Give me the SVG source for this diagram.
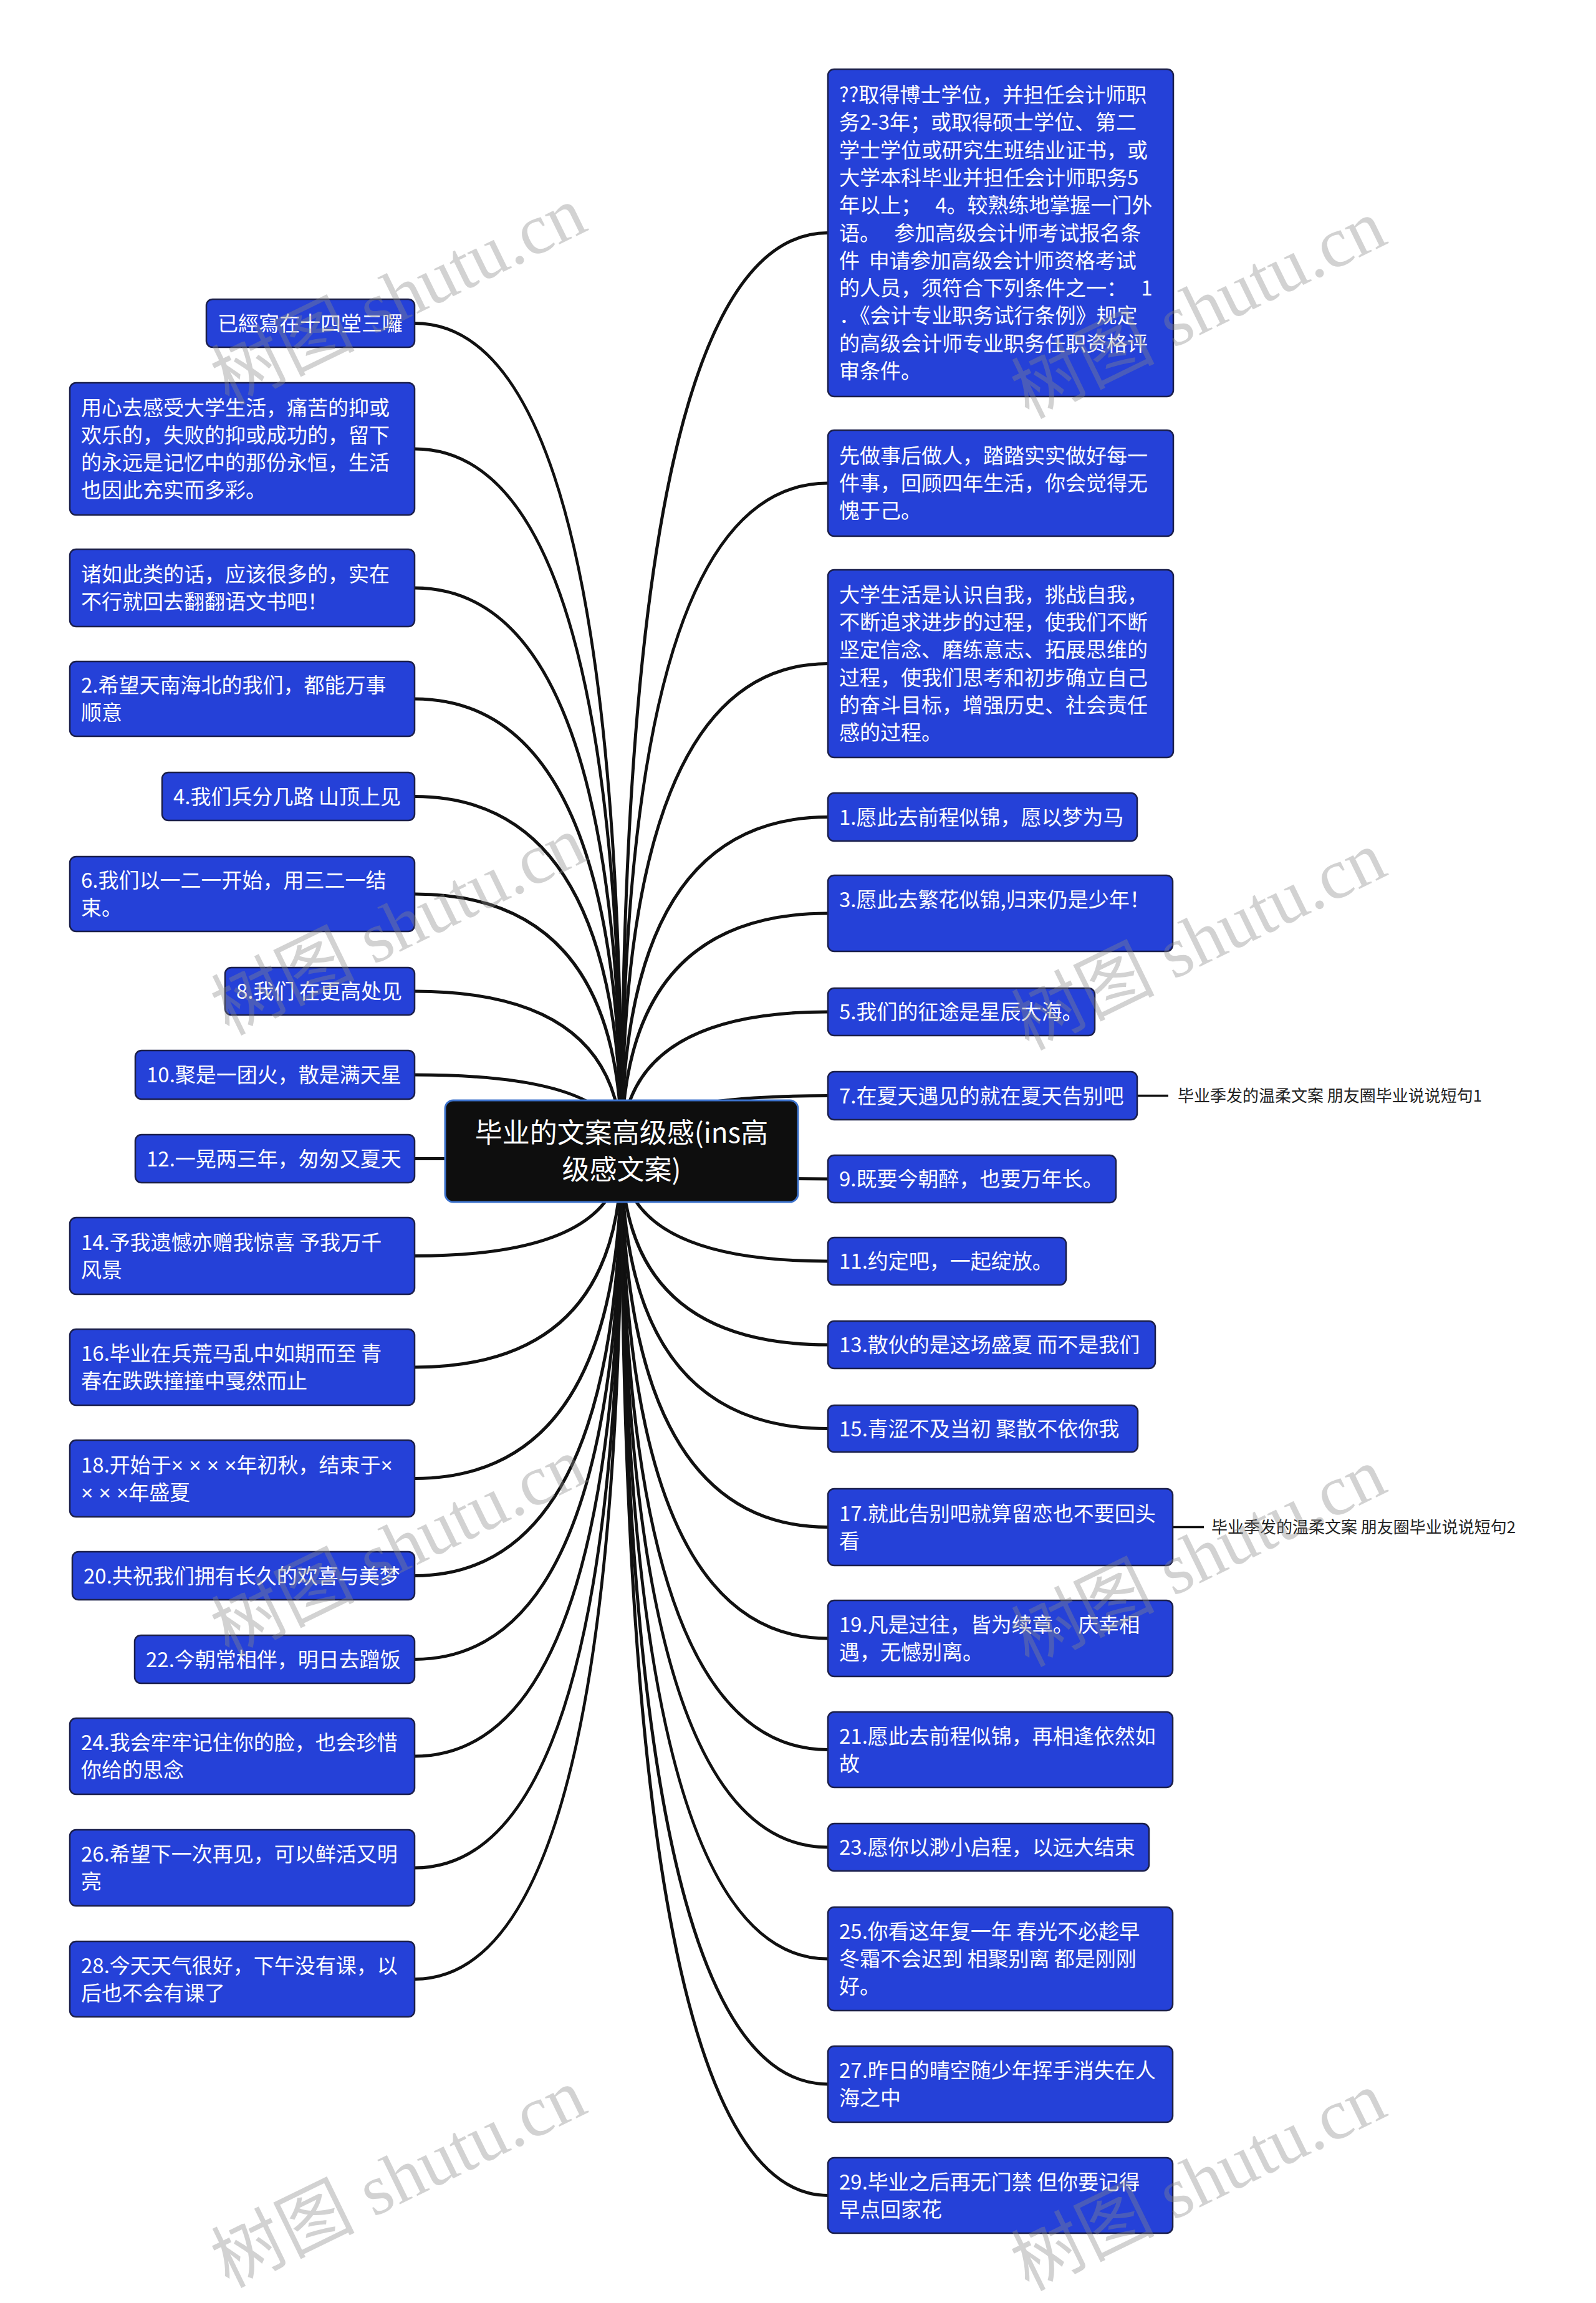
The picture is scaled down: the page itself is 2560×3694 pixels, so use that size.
<svg xmlns="http://www.w3.org/2000/svg" width="2560" height="3694" viewBox="0 0 2560 3694">
<style>
.n{fill:#2541d8;stroke:#1b1f4a;stroke-width:2.5}
.r{fill:#0e0e0e;stroke:#3c72cc;stroke-width:3}
.t{font-family:"Noto Sans CJK SC","Noto Sans",sans-serif;font-size:33px;fill:#ffffff}
.x{font-family:"Liberation Sans","Noto Sans",sans-serif}
.rt{font-family:"Noto Sans CJK SC","Noto Sans",sans-serif;font-size:44px;fill:#ffffff;text-anchor:middle}
.lb{font-family:"Noto Sans CJK SC","Noto Sans",sans-serif;font-size:26px;fill:#222}
.c{fill:none;stroke:#111;stroke-width:5}
.cs{fill:none;stroke:#111;stroke-width:3.5}
.wm{font-family:"Liberation Serif","Noto Sans CJK SC",serif;font-size:115px;fill:#888;fill-opacity:0.38;text-anchor:middle}
</style>
<rect width="2560" height="3694" fill="#ffffff"/>
<g id="connectors">
<path class="c" d="M997,1846 Q997,518.5 665,518.5"/>
<path class="c" d="M997,1846 Q997,720 665,720"/>
<path class="c" d="M997,1846 Q997,943 665,943"/>
<path class="c" d="M997,1846 Q997,1121 665,1121"/>
<path class="c" d="M997,1846 Q997,1277.5 665,1277.5"/>
<path class="c" d="M997,1846 Q997,1434 665,1434"/>
<path class="c" d="M997,1846 Q997,1590 665,1590"/>
<path class="c" d="M997,1846 Q997,1724 665,1724"/>
<path class="c" d="M997,1846 Q997,1858.5 665,1858.5"/>
<path class="c" d="M997,1846 Q997,2014.5 665,2014.5"/>
<path class="c" d="M997,1846 Q997,2193 665,2193"/>
<path class="c" d="M997,1846 Q997,2371.5 665,2371.5"/>
<path class="c" d="M997,1846 Q997,2527.5 665,2527.5"/>
<path class="c" d="M997,1846 Q997,2661.5 665,2661.5"/>
<path class="c" d="M997,1846 Q997,2817 665,2817"/>
<path class="c" d="M997,1846 Q997,2996 665,2996"/>
<path class="c" d="M997,1846 Q997,3174.5 665,3174.5"/>
<path class="c" d="M997,1846 Q997,373.5 1328,373.5"/>
<path class="c" d="M997,1846 Q997,775 1328,775"/>
<path class="c" d="M997,1846 Q997,1064.5 1328,1064.5"/>
<path class="c" d="M997,1846 Q997,1310.5 1328,1310.5"/>
<path class="c" d="M997,1846 Q997,1465 1328,1465"/>
<path class="c" d="M997,1846 Q997,1623 1328,1623"/>
<path class="c" d="M997,1846 Q997,1757.5 1328,1757.5"/>
<path class="c" d="M997,1846 Q997,1891 1328,1891"/>
<path class="c" d="M997,1846 Q997,2023 1328,2023"/>
<path class="c" d="M997,1846 Q997,2157 1328,2157"/>
<path class="c" d="M997,1846 Q997,2291.5 1328,2291.5"/>
<path class="c" d="M997,1846 Q997,2449.5 1328,2449.5"/>
<path class="c" d="M997,1846 Q997,2628 1328,2628"/>
<path class="c" d="M997,1846 Q997,2806.5 1328,2806.5"/>
<path class="c" d="M997,1846 Q997,2963 1328,2963"/>
<path class="c" d="M997,1846 Q997,3142 1328,3142"/>
<path class="c" d="M997,1846 Q997,3343 1328,3343"/>
<path class="c" d="M997,1846 Q997,3521.5 1328,3521.5"/>
<path class="cs" d="M1824,1757.5 H1874"/>
<path class="cs" d="M1881,2449.5 H1931"/>
</g>
<g id="root">
<rect class="r" x="714" y="1765" width="566" height="163" rx="13"/>
<text class="rt" x="997" y="1833">毕业的文案高级感(ins高</text>
<text class="rt" x="997" y="1892">级感文案)</text>
</g>
<g id="L1"><rect class="n" x="331" y="480" width="334" height="77" rx="10"/><text class="t" x="349" y="530.5">已經寫在十四堂三囉</text></g>
<g id="L2"><rect class="n" x="112" y="614" width="553" height="212" rx="10"/><text class="t" x="130" y="666">用心去感受大学生活，痛苦的抑或</text><text class="t" x="130" y="710">欢乐的，失败的抑或成功的，留下</text><text class="t" x="130" y="754">的永远是记忆中的那份永恒，生活</text><text class="t" x="130" y="798">也因此充实而多彩。</text></g>
<g id="L3"><rect class="n" x="112" y="881" width="553" height="124" rx="10"/><text class="t" x="130" y="933">诸如此类的话，应该很多的，实在</text><text class="t" x="130" y="977">不行就回去翻翻语文书吧！</text></g>
<g id="L4"><rect class="n" x="112" y="1061" width="553" height="120" rx="10"/><text class="t" x="130" y="1111">2.希望天南海北的我们，都能万事</text><text class="t" x="130" y="1155">顺意</text></g>
<g id="L5"><rect class="n" x="260" y="1239" width="405" height="77" rx="10"/><text class="t" x="278" y="1289.5">4.我们兵分几路 山顶上见</text></g>
<g id="L6"><rect class="n" x="112" y="1374" width="553" height="120" rx="10"/><text class="t" x="130" y="1424">6.我们以一二一开始，用三二一结</text><text class="t" x="130" y="1468">束。</text></g>
<g id="L7"><rect class="n" x="361" y="1552" width="304" height="76" rx="10"/><text class="t" x="379" y="1602">8.我们 在更高处见</text></g>
<g id="L8"><rect class="n" x="217" y="1685" width="448" height="78" rx="10"/><text class="t" x="235" y="1736">10.聚是一团火，散是满天星</text></g>
<g id="L9"><rect class="n" x="217" y="1820" width="448" height="77" rx="10"/><text class="t" x="235" y="1870.5">12.一晃两三年，匆匆又夏天</text></g>
<g id="L10"><rect class="n" x="112" y="1953" width="553" height="123" rx="10"/><text class="t" x="130" y="2004.5">14.予我遗憾亦赠我惊喜 予我万千</text><text class="t" x="130" y="2048.5">风景</text></g>
<g id="L11"><rect class="n" x="112" y="2132" width="553" height="122" rx="10"/><text class="t" x="130" y="2183">16.毕业在兵荒马乱中如期而至 青</text><text class="t" x="130" y="2227">春在跌跌撞撞中戛然而止</text></g>
<g id="L12"><rect class="n" x="112" y="2310" width="553" height="123" rx="10"/><text class="t" x="130" y="2361.5">18.开始于<tspan class="x">× × × ×</tspan>年初秋，结束于<tspan class="x">×</tspan></text><text class="t" x="130" y="2405.5"><tspan class="x">× × ×</tspan>年盛夏</text></g>
<g id="L13"><rect class="n" x="116" y="2489" width="549" height="77" rx="10"/><text class="t" x="134" y="2539.5">20.共祝我们拥有长久的欢喜与美梦</text></g>
<g id="L14"><rect class="n" x="216" y="2623" width="449" height="77" rx="10"/><text class="t" x="234" y="2673.5">22.今朝常相伴，明日去蹭饭</text></g>
<g id="L15"><rect class="n" x="112" y="2756" width="553" height="122" rx="10"/><text class="t" x="130" y="2807">24.我会牢牢记住你的脸，也会珍惜</text><text class="t" x="130" y="2851">你给的思念</text></g>
<g id="L16"><rect class="n" x="112" y="2935" width="553" height="122" rx="10"/><text class="t" x="130" y="2986">26.希望下一次再见，可以鲜活又明</text><text class="t" x="130" y="3030">亮</text></g>
<g id="L17"><rect class="n" x="112" y="3114" width="553" height="121" rx="10"/><text class="t" x="130" y="3164.5">28.今天天气很好，下午没有课，以</text><text class="t" x="130" y="3208.5">后也不会有课了</text></g>
<g id="R1"><rect class="n" x="1328" y="111" width="554" height="525" rx="10"/>
<text class="t" x="1346" y="164">??取得博士学位，并担任会计师职</text>
<text class="t" x="1346" y="208.3">务2-3年；或取得硕士学位、第二</text>
<text class="t" x="1346" y="252.6">学士学位或研究生班结业证书，或</text>
<text class="t" x="1346" y="296.9">大学本科毕业并担任会计师职务5</text>
<text class="t" x="1346" y="341.2">年以上；&#160;&#160;&#160;4。较熟练地掌握一门外</text>
<text class="t" x="1346" y="385.5">语。&#160;&#160;&#160;参加高级会计师考试报名条</text>
<text class="t" x="1346" y="429.8">件&#160;&#160;申请参加高级会计师资格考试</text>
<text class="t" x="1346" y="474.1">的人员，须符合下列条件之一：&#160;&#160;&#160;1</text>
<text class="t" x="1346" y="518.4">．《会计专业职务试行条例》规定</text>
<text class="t" x="1346" y="562.7">的高级会计师专业职务任职资格评</text>
<text class="t" x="1346" y="607">审条件。</text></g>
<g id="R2"><rect class="n" x="1328" y="690" width="554" height="170" rx="10"/><text class="t" x="1346" y="743">先做事后做人，踏踏实实做好每一</text><text class="t" x="1346" y="787">件事，回顾四年生活，你会觉得无</text><text class="t" x="1346" y="831">愧于己。</text></g>
<g id="R3"><rect class="n" x="1328" y="914" width="554" height="301" rx="10"/><text class="t" x="1346" y="965.5">大学生活是认识自我，挑战自我，</text><text class="t" x="1346" y="1010">不断追求进步的过程，使我们不断</text><text class="t" x="1346" y="1054">坚定信念、磨练意志、拓展思维的</text><text class="t" x="1346" y="1098.5">过程，使我们思考和初步确立自己</text><text class="t" x="1346" y="1143">的奋斗目标，增强历史、社会责任</text><text class="t" x="1346" y="1187">感的过程。</text></g>
<g id="R4"><rect class="n" x="1328" y="1272" width="496" height="77" rx="10"/><text class="t" x="1346" y="1322.5">1.愿此去前程似锦，愿以梦为马</text></g>
<g id="R5"><rect class="n" x="1328" y="1404" width="553" height="122" rx="10"/><text class="t" x="1346" y="1455">3.愿此去繁花似锦,归来仍是少年！</text></g>
<g id="R6"><rect class="n" x="1328" y="1585" width="428" height="76" rx="10"/><text class="t" x="1346" y="1635">5.我们的征途是星辰大海。</text></g>
<g id="R7"><rect class="n" x="1328" y="1719" width="496" height="77" rx="10"/><text class="t" x="1346" y="1769.5">7.在夏天遇见的就在夏天告别吧</text></g>
<g id="R7a"><text class="lb" x="1889" y="1766.5">毕业季发的温柔文案 朋友圈毕业说说短句1</text></g>
<g id="R8"><rect class="n" x="1328" y="1853" width="462" height="76" rx="10"/><text class="t" x="1346" y="1903">9.既要今朝醉，也要万年长。</text></g>
<g id="R9"><rect class="n" x="1328" y="1985" width="382" height="76" rx="10"/><text class="t" x="1346" y="2035">11.约定吧，一起绽放。</text></g>
<g id="R10"><rect class="n" x="1328" y="2119" width="525" height="76" rx="10"/><text class="t" x="1346" y="2169">13.散伙的是这场盛夏 而不是我们</text></g>
<g id="R11"><rect class="n" x="1328" y="2254" width="497" height="75" rx="10"/><text class="t" x="1346" y="2303.5">15.青涩不及当初 聚散不依你我</text></g>
<g id="R12"><rect class="n" x="1328" y="2388" width="553" height="123" rx="10"/><text class="t" x="1346" y="2439.5">17.就此告别吧就算留恋也不要回头</text><text class="t" x="1346" y="2483.5">看</text></g>
<g id="R12a"><text class="lb" x="1943" y="2458.5">毕业季发的温柔文案 朋友圈毕业说说短句2</text></g>
<g id="R13"><rect class="n" x="1328" y="2567" width="553" height="122" rx="10"/><text class="t" x="1346" y="2618">19.凡是过往，皆为续章。 庆幸相</text><text class="t" x="1346" y="2662">遇，无憾别离。</text></g>
<g id="R14"><rect class="n" x="1328" y="2746" width="553" height="121" rx="10"/><text class="t" x="1346" y="2796.5">21.愿此去前程似锦，再相逢依然如</text><text class="t" x="1346" y="2840.5">故</text></g>
<g id="R15"><rect class="n" x="1328" y="2925" width="515" height="76" rx="10"/><text class="t" x="1346" y="2975">23.愿你以渺小启程，以远大结束</text></g>
<g id="R16"><rect class="n" x="1328" y="3059" width="553" height="166" rx="10"/><text class="t" x="1346" y="3110">25.你看这年复一年 春光不必趁早</text><text class="t" x="1346" y="3154">冬霜不会迟到 相聚别离 都是刚刚</text><text class="t" x="1346" y="3198">好。</text></g>
<g id="R17"><rect class="n" x="1328" y="3282" width="553" height="122" rx="10"/><text class="t" x="1346" y="3333">27.昨日的晴空随少年挥手消失在人</text><text class="t" x="1346" y="3377">海之中</text></g>
<g id="R18"><rect class="n" x="1328" y="3461" width="553" height="121" rx="10"/><text class="t" x="1346" y="3511.5">29.毕业之后再无门禁 但你要记得</text><text class="t" x="1346" y="3555.5">早点回家花</text></g>
<g id="watermarks">
<text class="wm" x="641" y="513" transform="rotate(-26 641 478)">树图 shutu.cn</text>
<text class="wm" x="1924" y="534" transform="rotate(-26 1924 499)">树图 shutu.cn</text>
<text class="wm" x="641" y="1523" transform="rotate(-26 641 1488)">树图 shutu.cn</text>
<text class="wm" x="1924" y="1547" transform="rotate(-26 1924 1512)">树图 shutu.cn</text>
<text class="wm" x="641" y="2520" transform="rotate(-26 641 2485)">树图 shutu.cn</text>
<text class="wm" x="1924" y="2536" transform="rotate(-26 1924 2501)">树图 shutu.cn</text>
<text class="wm" x="641" y="3532" transform="rotate(-26 641 3497)">树图 shutu.cn</text>
<text class="wm" x="1924" y="3537" transform="rotate(-26 1924 3502)">树图 shutu.cn</text>
</g>
</svg>
